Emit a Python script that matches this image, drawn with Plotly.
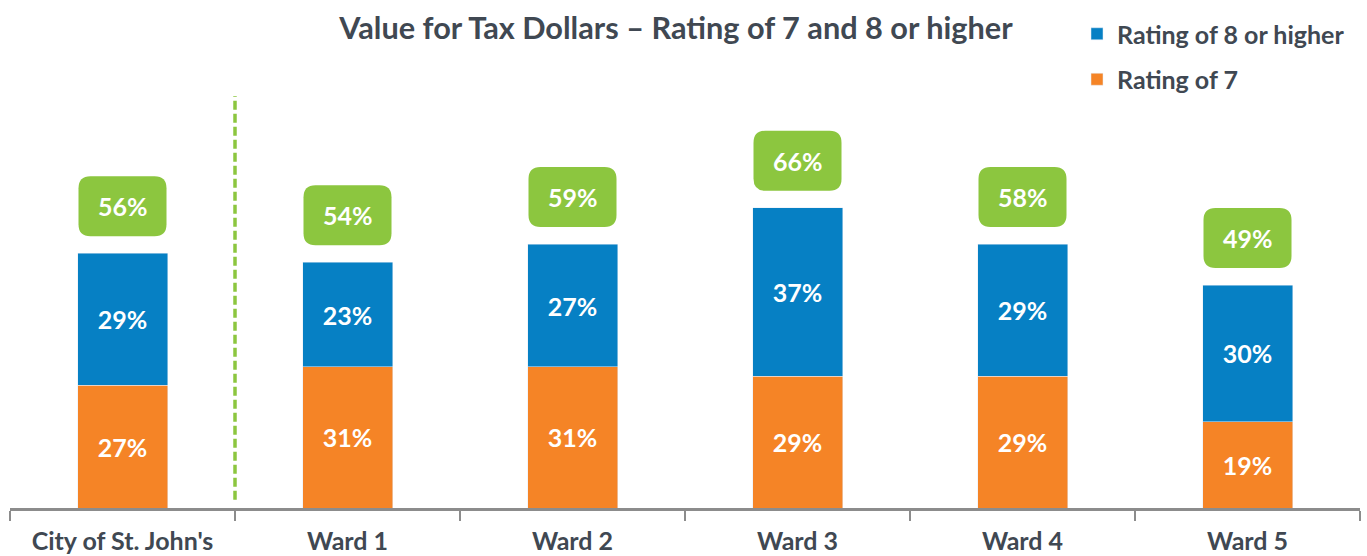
import plotly.graph_objects as go

categories = ["City of St. John's", "Ward 1", "Ward 2", "Ward 3", "Ward 4", "Ward 5"]
rating7 = [27, 31, 31, 29, 29, 19]
rating8 = [29, 23, 27, 37, 29, 30]
totals = [56, 54, 59, 66, 58, 49]

BLUE = "#0680c4"
ORANGE = "#f58426"
GREEN = "#8cc63f"
TXT = "#404852"
FONT = "Lato"

W, H = 1367, 556
ml, mr, mt, mb = 10, 7, 14, 48
plot_h = H - mt - mb
px_per_unit = 4.55
ymax = plot_h / px_per_unit
plot_w = W - ml - mr
xunit = plot_w / len(categories)

fig = go.Figure()
fig.add_trace(go.Bar(
    x=categories, y=rating7, name="Rating of 7", marker_color=ORANGE,
    text=[f"{v}%" for v in rating7], textposition="inside", insidetextanchor="middle",
    textfont=dict(family=FONT, size=25, color="white", weight="bold"),
    width=0.4, legendgroup="g7", legendrank=2, cliponaxis=False,
))
fig.add_trace(go.Bar(
    x=categories, y=rating8, name="Rating of 8 or higher", marker_color=BLUE,
    text=[f"{v}%" for v in rating8], textposition="inside", insidetextanchor="middle",
    textfont=dict(family=FONT, size=25, color="white", weight="bold"),
    width=0.4, legendgroup="g8", legendrank=1, cliponaxis=False,
))

# rounded green boxes with totals
bw_px, bh_px, gap_px, r_px = 88, 60, 17, 12
for i, (a, b, t) in enumerate(zip(rating7, rating8, totals)):
    top = a + b
    y0 = top + gap_px / px_per_unit
    y1 = y0 + bh_px / px_per_unit
    x0 = i - bw_px / 2 / xunit
    x1 = i + bw_px / 2 / xunit
    rx = r_px / xunit
    ry = r_px / px_per_unit
    path = (f"M {x0+rx},{y0} L {x1-rx},{y0} Q {x1},{y0} {x1},{y0+ry} "
            f"L {x1},{y1-ry} Q {x1},{y1} {x1-rx},{y1} L {x0+rx},{y1} "
            f"Q {x0},{y1} {x0},{y1-ry} L {x0},{y0+ry} Q {x0},{y0} {x0+rx},{y0} Z")
    fig.add_shape(type="path", path=path, xref="x", yref="y",
                  fillcolor=GREEN, line=dict(width=0), layer="above")
    fig.add_annotation(x=i, y=(y0 + y1) / 2, xref="x", yref="y", text=f"{t}%",
                       showarrow=False,
                       font=dict(family=FONT, size=25, color="white", weight="bold"))

# dashed separator
fig.add_shape(type="line", xref="x", yref="y", x0=0.5, x1=0.5, y0=1.8,
              y1=(H - mb - 96) / px_per_unit,
              line=dict(color=GREEN, width=3.5, dash="9px,4px"))

fig.update_layout(
    width=W, height=H,
    margin=dict(l=ml, r=mr, t=mt, b=mb, autoexpand=False),
    barmode="stack",
    plot_bgcolor="white", paper_bgcolor="white",
    title=dict(text="<b>Value for Tax Dollars – Rating of 7 and 8 or higher</b>",
               x=676 / W, xref="container", xanchor="center", y=1 - 28 / H, yanchor="middle",
               font=dict(family=FONT, size=30.7, color=TXT)),
    legend=dict(x=1077 / W, xref="container", y=1 + 3 / plot_h, yref="paper",
                xanchor="left", yanchor="top",
                traceorder="grouped", tracegroupgap=10,
                font=dict(family=FONT, size=25, color=TXT, weight="bold"),
                bgcolor="rgba(0,0,0,0)"),
    showlegend=True,
    xaxis=dict(type="category", categoryorder="array", categoryarray=categories,
               range=[-0.5, len(categories) - 0.5],
               showline=True, linecolor="#8c8c8c", linewidth=3,
               ticks="outside", tickson="boundaries", ticklen=10, tickwidth=2,
               tickcolor="#8c8c8c", showgrid=False, ticklabelstandoff=9,
               tickfont=dict(family=FONT, size=25, color=TXT, weight="bold")),
    yaxis=dict(range=[0, ymax], visible=False, showgrid=False, zeroline=False),
)

fig.write_html("out.html", config={"displayModeBar": False},
               post_script="document.body.style.margin='0';")
